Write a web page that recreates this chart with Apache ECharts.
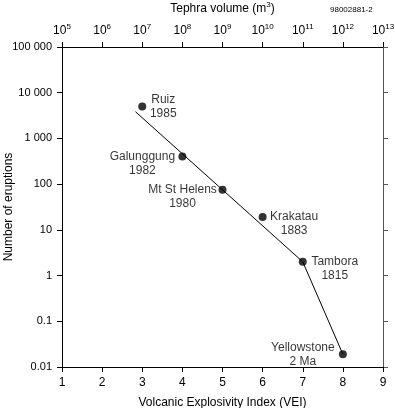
<!DOCTYPE html>
<html>
<head>
<meta charset="utf-8">
<script src="https://cdn.jsdelivr.net/npm/echarts@6/dist/echarts.min.js"></script>
<style>
  html, body { margin: 0; padding: 0; background: #fff; }
  #chart { width: 395px; height: 408px; }
</style>
</head>
<body>
<div id="chart"></div>
<script>
// 火山名称与年份
var volcanoes = ['Ruiz', 'Galunggung', 'Mt St Helens', 'Krakatau', 'Tambora', 'Yellowstone']
var years = ['1985', '1982', '1980', '1883', '1815', '2 Ma']
// VEI 与喷发次数
var vei = [3, 4, 5, 6, 7, 8]
var eruptions = [5000, 400, 75, 19, 2, 0.019]
// 拟合线
var fitX = [2.83, 7, 8]
var fitY = [3850, 2, 0.019]
// 刻度标签
var yTickLabels = ['0.01', '0.1', '1', '10', '100', '1 000', '10 000', '100 000']
var tephraExp = [5, 6, 7, 8, 9, 10, 11, 12, 13]

var font = 'Liberation Sans, Arial, sans-serif'
// 标签偏移（相对于点）
var labelOffsets = {
  'Ruiz': [21, 0],
  'Galunggung': [-40, 7],
  'Mt St Helens': [-40, 7],
  'Krakatau': [31.5, 7],
  'Tambora': [32, 7],
  'Yellowstone': [-40, 0]
}

var chart = echarts.init(document.getElementById('chart'))

var points = vei.map(function (v, i) {
  return {
    value: [v, eruptions[i]],
    name: volcanoes[i],
    label: { offset: labelOffsets[volcanoes[i]] }
  }
})

var axisLineStyle = { color: '#000', width: 1 }
var tickStyle = { show: true, inside: false, length: 5, lineStyle: axisLineStyle }

var options = {
  animation: false,
  textStyle: { fontFamily: font, color: '#000' },
  grid: { left: 62, right: 12, top: 47, bottom: 41, containLabel: false, outerBoundsMode: 'none' },
  graphic: [{
    type: 'text',
    left: 330,
    top: 6,
    style: { text: '98002881-2', font: '8px ' + font, fill: '#000' }
  }],
  xAxis: [{
    type: 'value',
    position: 'bottom',
    min: 1,
    max: 9,
    interval: 1,
    name: 'Volcanic Explosivity Index (VEI)',
    nameLocation: 'middle',
    nameGap: 30,
    nameMoveOverlap: false,
    nameTextStyle: { fontSize: 12, color: '#000', fontFamily: font },
    axisLine: { show: true, lineStyle: axisLineStyle },
    axisTick: tickStyle,
    axisLabel: { fontSize: 12, color: '#000', margin: 10, fontFamily: font },
    splitLine: { show: false }
  }, {
    type: 'value',
    position: 'top',
    min: 1,
    max: 9,
    interval: 1,
    name: 'Tephra volume (m{s|3})',
    nameLocation: 'middle',
    nameGap: 31,
    nameMoveOverlap: false,
    nameTextStyle: {
      fontSize: 12, color: '#000', fontFamily: font,
      rich: { s: { fontSize: 8, verticalAlign: 'bottom', padding: [0, 0, 7, 0] } }
    },
    axisLine: { show: true, lineStyle: axisLineStyle },
    axisTick: tickStyle,
    axisLabel: {
      margin: 9,
      color: '#000',
      fontFamily: font,
      formatter: function (v) {
        return '{b|10}{s|' + tephraExp[Math.round(v) - 1] + '}'
      },
      rich: {
        b: { fontSize: 12, fontFamily: font, color: '#000' },
        s: { fontSize: 8, fontFamily: font, color: '#000', verticalAlign: 'bottom', padding: [0, 0, 7, 0] }
      }
    },
    splitLine: { show: false }
  }],
  yAxis: [{
    type: 'log',
    logBase: 10,
    position: 'left',
    min: 0.01,
    max: 100000,
    name: 'Number of eruptions',
    nameLocation: 'middle',
    nameRotate: 90,
    nameGap: 47,
    nameMoveOverlap: false,
    nameTextStyle: { fontSize: 12, color: '#000', fontFamily: font },
    axisLine: { show: true, lineStyle: axisLineStyle },
    axisTick: tickStyle,
    axisLabel: {
      fontSize: 11,
      color: '#000',
      margin: 10,
      fontFamily: font,
      formatter: function (v) {
        return yTickLabels[Math.round(Math.log10(v)) + 2]
      }
    },
    splitLine: { show: false }
  }, {
    type: 'log',
    logBase: 10,
    position: 'right',
    min: 0.01,
    max: 100000,
    axisLine: { show: true, lineStyle: { color: '#555', width: 1 } },
    axisTick: { show: true, inside: false, length: 5, lineStyle: { color: '#555' } },
    axisLabel: { show: false },
    splitLine: { show: false }
  }],
  series: [{
    type: 'line',
    xAxisIndex: 0,
    yAxisIndex: 0,
    data: fitX.map(function (x, i) { return [x, fitY[i]] }),
    showSymbol: false,
    symbol: 'none',
    lineStyle: { color: '#000', width: 1 },
    silent: true,
    z: 1
  }, {
    type: 'scatter',
    xAxisIndex: 0,
    yAxisIndex: 0,
    data: points,
    symbol: 'circle',
    symbolSize: 8,
    itemStyle: { color: '#000' },
    z: 2,
    label: {
      show: true,
      position: 'inside',
      align: 'center',
      verticalAlign: 'middle',
      fontSize: 12,
      lineHeight: 14,
      color: '#000',
      fontFamily: font,
      formatter: function (p) {
        return p.name + '\n' + years[p.dataIndex]
      }
    }
  }]
}

chart.setOption(options, true)
</script>
</body>
</html>
